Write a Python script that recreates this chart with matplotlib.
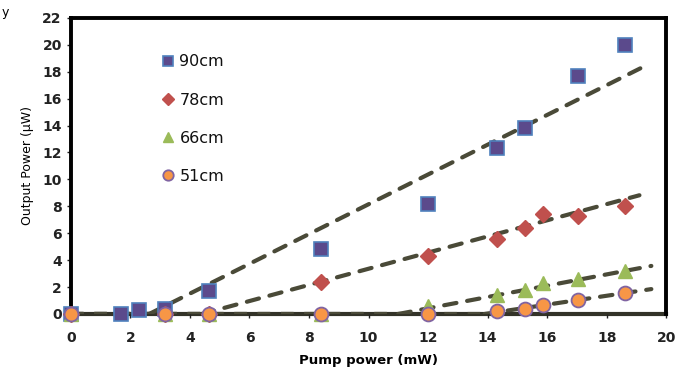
import matplotlib
matplotlib.use("Agg")
import matplotlib.pyplot as plt
import numpy as np

# Data
x90 = [0, 1.7, 2.3, 3.15, 4.65, 8.4, 12.0, 14.3, 15.25, 17.05, 18.6]
y90 = [0, 0, 0.3, 0.4, 1.7, 4.8, 8.2, 12.3, 13.8, 17.7, 20.0]
x78 = [0, 3.15, 4.65, 8.4, 12.0, 14.3, 15.25, 15.85, 17.05, 18.6]
y78 = [0, 0, 0, 2.35, 4.3, 5.6, 6.4, 7.4, 7.3, 8.0]
x66 = [0, 3.15, 4.65, 8.4, 12.0, 14.3, 15.25, 15.85, 17.05, 18.6]
y66 = [0, 0, 0, 0, 0.6, 1.4, 1.8, 2.3, 2.6, 3.2]
x51 = [0, 3.15, 4.65, 8.4, 12.0, 14.3, 15.25, 15.85, 17.05, 18.6]
y51 = [0, 0, 0, 0, 0, 0.2, 0.35, 0.65, 1.05, 1.55]

labels = ["90cm", "78cm", "66cm", "51cm"]
# Linear trend lines: threshold (x-intercept), slope, end x
thresholds = [2.63, 4.4, 11.0, 13.9]
slopes = [1.106, 0.60, 0.42, 0.33]
trend_end = [19.3, 19.1, 19.5, 19.5]

xticks = list(range(0, 21, 2))
yticks = list(range(0, 23, 2))

fig = plt.figure(figsize=(6.75, 3.72), dpi=100)
ax = fig.add_axes([0.105, 0.156, 0.882, 0.796])

trend_color = "#4a4a38"
for th, sl, xe in zip(thresholds, slopes, trend_end):
    xs = np.array([th, xe])
    ax.plot(xs, sl * (xs - th), linestyle=(0, (3.0, 2.6)), color=trend_color, lw=3.0,
            zorder=2, dash_capstyle="round")
    ax.plot([0, th], [0, 0], linestyle=(0, (3.0, 2.6)), color=trend_color, lw=3.0, zorder=2)

ms = 10
ax.plot(x90, y90, 's', ms=ms, mfc="#5b4a8c", mec="#4f81bd", mew=1.2, ls='none', zorder=3,
        label=labels[0], clip_on=False)
ax.plot(x78, y78, 'D', ms=ms * 0.85, mfc="#c0504d", mec="#c0504d", mew=1, ls='none', zorder=4,
        label=labels[1], clip_on=False)
ax.plot(x66, y66, '^', ms=ms * 1.05, mfc="#9bbb59", mec="#9bbb59", mew=1, ls='none', zorder=5,
        label=labels[2], clip_on=False)
ax.plot(x51, y51, 'o', ms=ms, mfc="#f79646", mec="#8064a2", mew=1.3, ls='none', zorder=6,
        label=labels[3], clip_on=False)

ax.set_xlim(0, 20)
ax.set_ylim(0, 22)
ax.set_xticks(xticks)
ax.set_yticks(yticks)
ax.tick_params(axis='both', labelsize=10, length=3, width=1, colors="#222222")
for lab in ax.get_xticklabels() + ax.get_yticklabels():
    lab.set_fontweight('bold')
ax.tick_params(axis='x', pad=9)

for side in ["left", "top", "right"]:
    ax.spines[side].set_linewidth(2.8)
    ax.spines[side].set_color("black")
ax.spines["bottom"].set_linewidth(3)
ax.spines["bottom"].set_color("#333328")
ax.spines["bottom"].set_zorder(1)

ax.set_xlabel("Pump power (mW)", fontsize=9.5, fontweight='bold', labelpad=7)
ax.set_ylabel("Output Power (\u03bcW)", fontsize=9, labelpad=6)

leg = ax.legend(loc='upper left', bbox_to_anchor=(0.13, 0.925), frameon=False,
                fontsize=11.5, markerscale=0.75, handlelength=0.7, handletextpad=0.35,
                labelspacing=1.45)
for t in leg.get_texts():
    t.set_color("#111111")

fig.text(0.003, 0.985, "y", fontsize=9, va='top', ha='left')

fig.savefig("out.png", dpi=100)
